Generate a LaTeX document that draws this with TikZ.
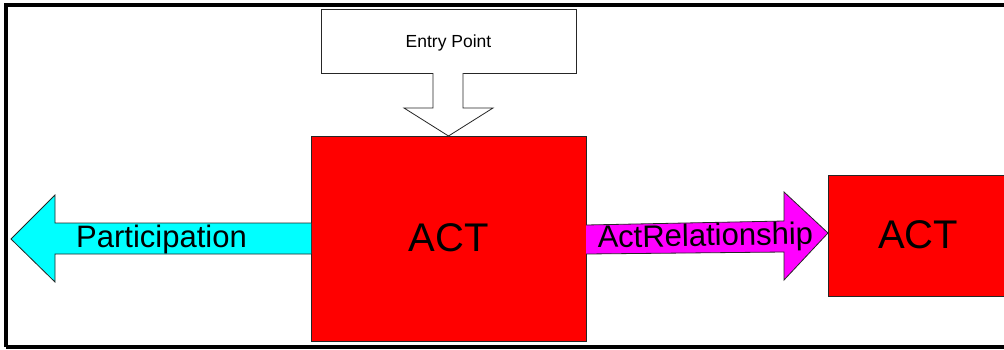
\documentclass[tikz,border=0pt]{standalone}
\usepackage{fontspec}
\setmainfont{Liberation Sans}
\usetikzlibrary{calc}
\definecolor{actred}{RGB}{255,0,0}
\definecolor{partcyan}{RGB}{0,255,255}
\definecolor{relmag}{RGB}{255,0,255}
\begin{document}
\begin{tikzpicture}[x=1pt,y=-1pt,
  boxstyle/.style={draw=black!85,line width=0.8pt,inner sep=0pt,outer sep=0pt},
  actbox/.style={boxstyle,fill=actred},
  acttext/.style={font=\fontsize{40}{46}\selectfont,inner sep=0pt,anchor=base},
  blockarrow/.style={draw=black!85,line width=0.8pt,line join=miter},
  lbl/.style={inner sep=0pt,anchor=base,font=\fontsize{31}{36}\selectfont}]
\fill[white] (0,0) rectangle (1004,349);
\useasboundingbox (0,0) rectangle (1004,349);
% frame
\draw[line width=4pt] (6,347) -- (6,5.3) -- (1004,5.3);
\draw[line width=4pt] (6,347) -- (1004,347);
% boxes
\node[boxstyle,fill=white,minimum width=255pt,minimum height=64pt] (entry) at (448.5,41) {};
\node[inner sep=0pt,anchor=base,font=\fontsize{17.5}{21}\selectfont] (entryt) at (448.5,47) {Entry Point};
\node[actbox,minimum width=275pt,minimum height=205pt] (act1) at (448.5,238.5) {};
\node[acttext] (act1t) at (448.5,251) {ACT};
\coordinate (act2nw) at (828,175);
\coordinate (act2se) at (1004,296);
\fill[actred] (act2nw) rectangle (act2se);
\draw[black!85,line width=0.8pt] (act2nw -| act2se) -- (act2nw) -- (act2nw |- act2se) -- (act2se);
\node[inner sep=0pt] (act2) at (918,235.5) {};
\node[acttext] (act2t) at (918,248) {ACT};
% entry arrow
\draw[blockarrow,fill=white]
  ($(entry.south)+(-15.5,0)$) -- ++(0,35) -- ++(-29,0) -- (act1.north)
  -- ($(entry.south)+(44.5,35)$) -- ++(-30,0) -- ($(entry.south)+(14.5,0)$);
% participation arrow
\draw[blockarrow,fill=partcyan]
  (act1.west |- 0,223) -- (55,223) -- (55,195) -- (11,239) -- (55,282) -- (55,254) -- (act1.west |- 0,254);
\node[lbl] (part) at (161.5,247) {Participation};
% actrelationship arrow
\draw[blockarrow,fill=relmag]
  (act1.east |- 0,225) -- (784,221) -- (784,192) -- (828,233) -- (784,280) -- (784,252) -- (act1.east |- 0,254);
\node[lbl,rotate=1] (rel) at (705.5,246) {ActRelationship};
\end{tikzpicture}
\end{document}
